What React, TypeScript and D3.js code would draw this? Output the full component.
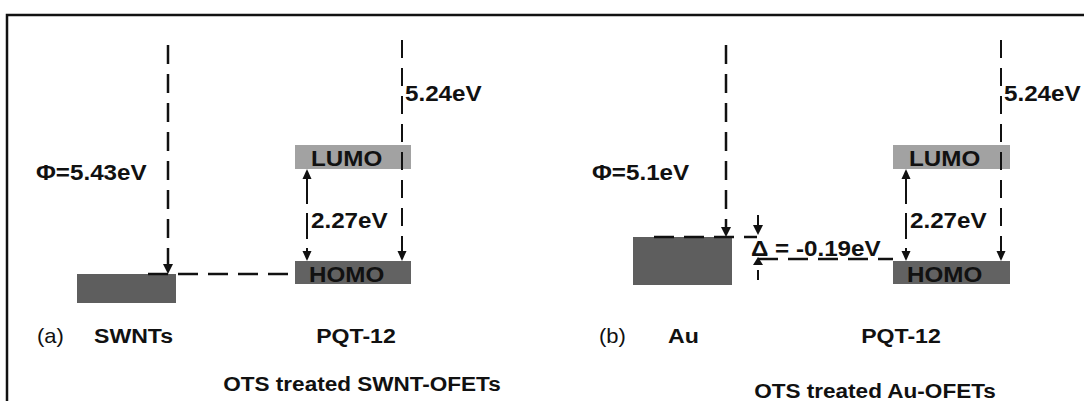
import React, { useEffect, useRef } from "react";
import * as d3 from "d3";

// ---- data (eV) ----
const panelTags = ["(a)", "(b)"];
const contacts = ["SWNTs", "Au"];
const workFunctions = [5.43, 5.1];
const captions = ["OTS treated SWNT-OFETs", "OTS treated Au-OFETs"];
const semiconductor = "PQT-12";
const homoLevel = 5.24;
const bandGap = 2.27;
const barriers = [null, -0.19]; // hole injection barrier, only drawn for Au

const W = 1084;
const H = 401;
const FONT = "'Liberation Sans', Arial, sans-serif";
const STRETCH = 1.1; // the original lettering is a little wider than Arial

// schematic x layout per panel
const layout = [
  { tagX: 37, phiX: 36, metal: [77, 176], metalH: 29, phiArrowX: 168, linkX: [148, 295], semi: [295, 411], gapX: 307, ipX: 402, nameX: 94, semiNameX: 356, captionX: 362, captionY: 384 },
  { tagX: 599, phiX: 592, metal: [633, 732], metalH: 48, phiArrowX: 726, linkX: [654, 757], semi: [893, 1010], gapX: 906, ipX: 1001, nameX: 668, semiNameX: 901, captionX: 875, captionY: 391 },
];

const App = () => {
  const ref = useRef(null);

  useEffect(() => {
    const svg = d3.select(ref.current);
    svg.selectAll("*").remove();

    const lumoLevel = homoLevel - bandGap;
    // diagram is not to scale, so a piecewise scale keeps level order
    const domain = [0, lumoLevel, ...workFunctions, homoLevel].sort(d3.ascending);
    const y = d3.scaleLinear().domain(domain).range([40, 169, 237, 261, 274]);

    svg.append("rect")
      .attr("width", W).attr("height", H).attr("fill", "#fff");

    // frame (runs off the right and bottom)
    svg.append("rect")
      .attr("x", 7).attr("y", 15)
      .attr("width", W + 20).attr("height", H + 20)
      .attr("fill", "none").attr("stroke", "#111").attr("stroke-width", 2.5);

    const head = (g, x, tip, dir, w = 5, len = 10) => {
      // dir = 1 points down, -1 points up
      g.append("path")
        .attr("d", `M${x - w},${tip - dir * len}L${x + w},${tip - dir * len}L${x},${tip}Z`)
        .attr("fill", "#111");
    };

    const vline = (g, x, y0, y1, dash, sw = 2.5) =>
      g.append("line")
        .attr("x1", x).attr("x2", x).attr("y1", y0).attr("y2", y1)
        .attr("stroke", "#111").attr("stroke-width", sw)
        .attr("stroke-dasharray", dash);

    const hline = (g, x0, x1, yy, dash) =>
      g.append("line")
        .attr("x1", x0).attr("x2", x1).attr("y1", yy).attr("y2", yy)
        .attr("stroke", "#111").attr("stroke-width", 2.5)
        .attr("stroke-dasharray", dash);

    const label = (g, x, yy, t, opts = {}) =>
      g.append("text")
        .attr("transform", `translate(${x},${yy}) scale(${STRETCH},1)`)
        .attr("dominant-baseline", "central")
        .attr("text-anchor", opts.anchor || "start")
        .attr("font-family", FONT)
        .attr("font-size", opts.size || 22)
        .attr("font-weight", opts.weight || "bold")
        .attr("fill", "#111")
        .text(t);

    workFunctions.forEach((wf, i) => {
      const L = layout[i];
      const g = svg.append("g");

      // contact block + work function
      g.append("rect")
        .attr("x", L.metal[0]).attr("y", y(wf))
        .attr("width", L.metal[1] - L.metal[0]).attr("height", L.metalH)
        .attr("fill", "#5e5e5e");
      vline(g, L.phiArrowX, y(0) + 5, y(wf) - 9, "19,10");
      head(g, L.phiArrowX, y(wf), 1);
      label(g, L.phiX, 172, `Φ=${wf}eV`);
      hline(g, L.linkX[0], L.linkX[1], y(wf), "20,10");

      // PQT-12 levels
      g.append("rect")
        .attr("x", L.semi[0]).attr("y", y(lumoLevel) - 24)
        .attr("width", L.semi[1] - L.semi[0]).attr("height", 24)
        .attr("fill", "#a2a2a2");
      label(g, L.semi[0] + 16, y(lumoLevel) - 11, "LUMO");
      g.append("rect")
        .attr("x", L.semi[0]).attr("y", y(homoLevel))
        .attr("width", L.semi[1] - L.semi[0]).attr("height", 23)
        .attr("fill", "#626262");
      label(g, L.semi[0] + 14, y(homoLevel) + 13, "HOMO");

      // band gap double arrow
      vline(g, L.gapX, y(lumoLevel) + 9, y(homoLevel) - 9, "26,9", 2);
      head(g, L.gapX, y(lumoLevel), -1, 4.5);
      head(g, L.gapX, y(homoLevel), 1, 4.5);
      label(g, L.gapX + 4, (y(lumoLevel) + y(homoLevel)) / 2 + 5, `${bandGap}eV`);

      // ionisation potential
      vline(g, L.ipX, y(0), y(homoLevel) - 9, "18,10", 2);
      head(g, L.ipX, y(homoLevel), 1, 4.5);
      label(g, L.ipX + 3, 93, `${homoLevel}eV`);

      // injection barrier
      const b = barriers[i];
      if (b !== null) {
        const bx = L.linkX[1] + 1;
        vline(g, bx, y(wf) - 22, y(wf) - 9, null, 2);
        head(g, bx, y(wf) - 2, 1, 5);
        hline(g, bx, L.semi[0], y(homoLevel) - 2, "20,10");
        head(g, bx, y(homoLevel) - 4, -1, 5, 8);
        vline(g, bx, y(homoLevel) + 9, y(homoLevel) + 19, null, 2);
        label(g, bx - 7, 248, `Δ = ${b}eV`);
      }

      // names
      label(g, L.tagX, 336, panelTags[i], { weight: "normal", size: 20 });
      label(g, L.nameX, 336, contacts[i], { size: 21 });
      label(g, L.semiNameX, 336, semiconductor, { size: 21, anchor: "middle" });
      label(g, L.captionX, L.captionY, captions[i], { size: 20.5, anchor: "middle" });
    });
  }, []);

  return (
    <svg
      ref={ref}
      width={W}
      height={H}
      style={{ position: "absolute", left: 0, top: 0 }}
    />
  );
};

export default App;
